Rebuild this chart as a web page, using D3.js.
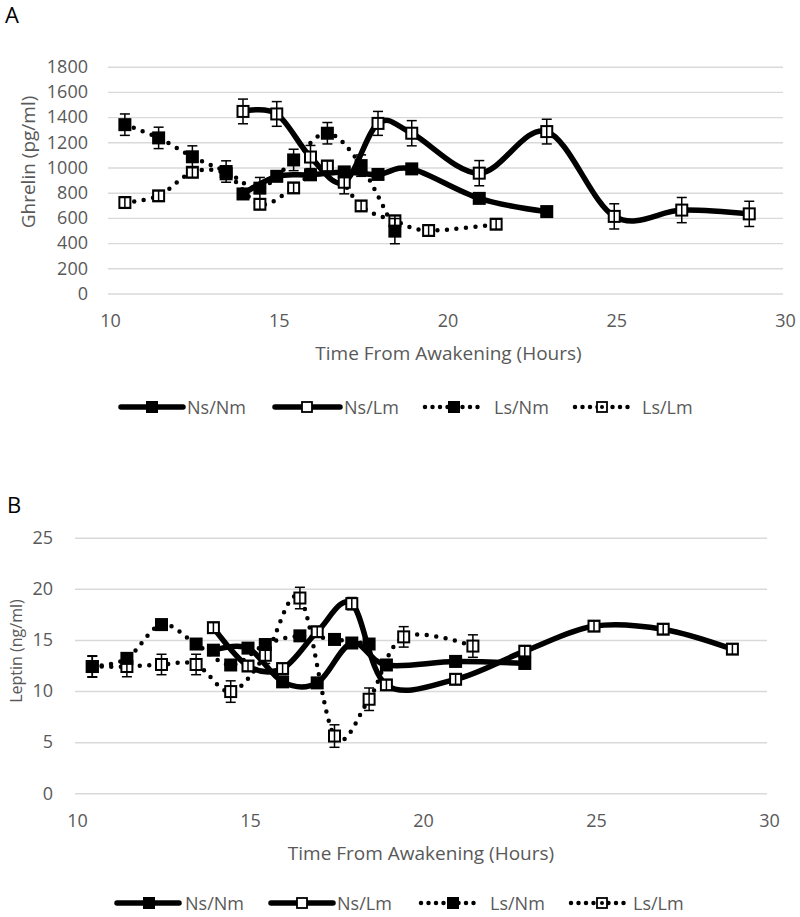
<!DOCTYPE html>
<html>
<head>
<meta charset="utf-8">
<script src="https://cdn.jsdelivr.net/npm/d3@7/dist/d3.min.js"></script>
<style>
  html, body { margin: 0; padding: 0; background: #fff; }
  svg { display: block; }
  text { font-family: "Open Sans", "Noto Sans", sans-serif; }
</style>
</head>
<body>
<svg id="chart" width="800" height="917"></svg>
<script>
// ---------------- DATA ----------------
const seriesNames = ["Ns/Nm", "Ns/Lm", "Ls/Nm", "Ls/Lm"];
const xTickLabels = [10, 15, 20, 25, 30];

// Panel A : Ghrelin (pg/ml)
const ghrelinTicks = [0, 200, 400, 600, 800, 1000, 1200, 1400, 1600, 1800];
const timesNsNmA = [14, 15, 16, 17, 18, 19, 21, 23];
const ghrelinNsNm = [790, 930, 942, 965, 945, 989, 755, 650];
const ghrelinNsNmErr = [25, 25, 25, 25, 25, 25, 25, 25];

const timesNsLmA = [14, 15, 16, 17, 18, 19, 21, 23, 25, 27, 29];
const ghrelinNsLm = [1445, 1425, 1083, 883, 1350, 1272, 955, 1285, 612, 662, 632];
const ghrelinNsLmErr = [98, 98, 92, 92, 95, 100, 100, 98, 100, 100, 100];

const timesLsNmA = [10.5, 11.5, 12.5, 13.5, 14.5, 15.5, 16.5, 17.5, 18.5];
const ghrelinLsNm = [1340, 1235, 1085, 968, 836, 1060, 1272, 1015, 495];
const ghrelinLsNmErr = [85, 85, 87, 85, 85, 85, 85, 85, 100];

const timesLsLmA = [10.5, 11.5, 12.5, 13.5, 14.5, 15.5, 16.5, 17.5, 18.5, 19.5, 21.5];
const ghrelinLsLm = [722, 775, 962, 950, 708, 838, 1012, 695, 577, 500, 550];
const ghrelinLsLmErr = [40, 40, 40, 40, 40, 40, 40, 40, 40, 40, 40];

// Panel B : Leptin (ng/ml)
const leptinTicks = [0, 5, 10, 15, 20, 25];
const timesNsNmB = [14, 15, 16, 17, 18, 19, 21, 23];
const leptinNsNm = [14.0, 14.2, 10.9, 10.8, 14.7, 12.55, 12.9, 12.7];
const leptinNsNmErr = [0.5, 0.5, 0.5, 0.5, 0.5, 0.5, 0.5, 0.5];

const timesNsLmB = [14, 15, 16, 17, 18, 19, 21, 23, 25, 27, 29];
const leptinNsLm = [16.2, 12.45, 12.2, 15.8, 18.55, 10.6, 11.15, 13.9, 16.35, 16.05, 14.1];
const leptinNsLmErr = [0.5, 0.5, 0.5, 0.5, 0.6, 0.5, 0.5, 0.5, 0.5, 0.5, 0.5];

const timesLsNmB = [10.5, 11.5, 12.5, 13.5, 14.5, 15.5, 16.5, 17.5, 18.5];
const leptinLsNm = [12.4, 13.2, 16.5, 14.6, 12.55, 14.55, 15.4, 15.05, 14.6];
const leptinLsNmErr = [1.05, 0.5, 0.5, 0.5, 0.5, 0.5, 0.5, 0.5, 0.5];

const timesLsLmB = [10.5, 11.5, 12.5, 13.5, 14.5, 15.5, 16.5, 17.5, 18.5, 19.5, 21.5];
const leptinLsLm = [12.4, 12.4, 12.6, 12.6, 9.95, 13.5, 19.1, 5.6, 9.2, 15.3, 14.4];
const leptinLsLmErr = [1.0, 1.0, 1.0, 1.0, 1.05, 0.8, 1.05, 1.1, 1.1, 1.0, 1.1];

// ---------------- DRAWING ----------------
const svg = d3.select("#chart");
const TXT = "#595959";

function makeSeries(times, vals, errs, name) {
  return {
    name,
    dotted: name.startsWith("Ls"),
    filled: name.endsWith("Nm"),
    pts: times.map((t, i) => ({ t, v: vals[i], e: errs[i] }))
  };
}

function drawPanel(cfg) {
  const g = svg.append("g");
  const x = d3.scaleLinear().domain([10, 30]).range(cfg.xRange);
  const y = d3.scaleLinear().domain([0, cfg.yTicks[cfg.yTicks.length - 1]]).range(cfg.yRange);
  const pw = cfg.xRange[1] - cfg.xRange[0];

  // gridlines + y labels
  const ya = g.append("g")
    .attr("transform", `translate(${cfg.xRange[0]},0)`)
    .call(d3.axisLeft(y).tickValues(cfg.yTicks).tickSize(-pw).tickPadding(cfg.yPad).tickFormat(d3.format("d")));
  ya.select(".domain").remove();
  ya.selectAll(".tick line").attr("stroke", "#d9d9d9").attr("stroke-width", 1.4);
  ya.selectAll(".tick text").attr("fill", TXT).style("font-size", "18px");

  // x labels
  const xa = g.append("g")
    .attr("transform", `translate(0,${cfg.yRange[0]})`)
    .call(d3.axisBottom(x).tickValues(xTickLabels).tickSize(0).tickPadding(cfg.xPad));
  xa.select(".domain").remove();
  xa.selectAll(".tick text").attr("fill", TXT).style("font-size", "18px").attr("dx", 2);

  // titles
  g.append("text").attr("x", (cfg.xRange[0] + cfg.xRange[1]) / 2 + cfg.xTitleDx).attr("y", cfg.xTitleY)
    .attr("text-anchor", "middle").attr("fill", TXT).style("font-size", "19px")
    .text("Time From Awakening (Hours)");
  g.append("text")
    .attr("transform", `translate(${cfg.yTitleX},${cfg.yTitleY}) rotate(-90)`)
    .attr("text-anchor", "middle").attr("dominant-baseline", "central")
    .attr("fill", TXT).style("font-size", cfg.yTitleSize + "px")
    .text(cfg.yTitle);
  g.append("text").attr("x", cfg.letterX).attr("y", cfg.letterY)
    .attr("fill", "#000").style("font-size", "22px").text(cfg.letter);

  const line = d3.line().x(d => x(d.t)).y(d => y(d.v)).curve(d3.curveCardinal.tension(0));

  // lines
  cfg.series.forEach(s => {
    g.append("path").datum(s.pts).attr("d", line)
      .attr("fill", "none").attr("stroke", "#000")
      .attr("stroke-width", s.dotted ? 4.5 : 5.5)
      .attr("stroke-linecap", "round").attr("stroke-linejoin", "round")
      .attr("stroke-dasharray", s.dotted ? "0 9.5" : null);
  });
  // markers: open squares first, filled squares on top
  const markerOrder = cfg.series.filter(s => !s.filled).concat(cfg.series.filter(s => s.filled));
  markerOrder.forEach(s => {
    const sz = s.filled ? 13 : 11;
    g.append("g").selectAll("rect").data(s.pts).join("rect")
      .attr("x", d => x(d.t) - sz / 2).attr("y", d => y(d.v) - sz / 2)
      .attr("width", sz).attr("height", sz)
      .attr("fill", s.filled ? "#000" : "#fff")
      .attr("stroke", s.filled ? "none" : "#000").attr("stroke-width", 2);
  });
  // error bars
  cfg.series.forEach(s => {
    const eg = g.append("g").attr("stroke", "#000").attr("stroke-width", 1.5);
    s.pts.forEach(d => {
      const cx = x(d.t), y1 = y(d.v - d.e), y2 = y(d.v + d.e);
      eg.append("line").attr("x1", cx).attr("x2", cx).attr("y1", y1).attr("y2", y2);
      eg.append("line").attr("x1", cx - 5).attr("x2", cx + 5).attr("y1", y1).attr("y2", y1);
      eg.append("line").attr("x1", cx - 5).attr("x2", cx + 5).attr("y1", y2).attr("y2", y2);
    });
  });

  // legend
  cfg.legend.forEach((L, i) => {
    const s = cfg.series[i];
    const lg = g.append("g");
    lg.append("line").attr("x1", L[0]).attr("x2", L[1]).attr("y1", cfg.legendY).attr("y2", cfg.legendY)
      .attr("stroke", "#000").attr("stroke-width", s.dotted ? 4.5 : 5.5)
      .attr("stroke-linecap", "round")
      .attr("stroke-dasharray", s.dotted ? "0 7.5" : null);
    const sz = s.filled ? 12 : 10;
    lg.append("rect").attr("x", L[2] - sz / 2).attr("y", cfg.legendY - sz / 2)
      .attr("width", sz).attr("height", sz)
      .attr("fill", s.filled ? "#000" : "#fff")
      .attr("stroke", s.filled ? "none" : "#000").attr("stroke-width", 1.8);
    if (!s.filled && s.dotted) {
      lg.append("circle").attr("cx", L[2]).attr("cy", cfg.legendY).attr("r", 2).attr("fill", "#000");
    }
    lg.append("text").attr("x", L[3]).attr("y", cfg.legendY)
      .attr("dominant-baseline", "central").attr("fill", TXT).style("font-size", "18px")
      .text(s.name);
  });
}

drawPanel({
  letter: "A", letterX: 5, letterY: 23,
  xRange: [108, 783], yRange: [293.5, 66.7], yTicks: ghrelinTicks,
  yPad: 20, xPad: 21, xTitleY: 360, xTitleDx: 3,
  yTitle: "Ghrelin (pg/ml)", yTitleX: 28, yTitleY: 162, yTitleSize: 19,
  legendY: 407,
  legend: [[121, 183, 152, 187], [275, 340, 307, 344], [425, 481, 454, 494], [575, 633, 602, 642]],
  series: [
    makeSeries(timesNsNmA, ghrelinNsNm, ghrelinNsNmErr, seriesNames[0]),
    makeSeries(timesNsLmA, ghrelinNsLm, ghrelinNsLmErr, seriesNames[1]),
    makeSeries(timesLsNmA, ghrelinLsNm, ghrelinLsNmErr, seriesNames[2]),
    makeSeries(timesLsLmA, ghrelinLsLm, ghrelinLsLmErr, seriesNames[3])
  ]
});

drawPanel({
  letter: "B", letterX: 7, letterY: 513,
  xRange: [75, 767], yRange: [793.3, 537.7], yTicks: leptinTicks,
  yPad: 22, xPad: 21, xTitleY: 860, xTitleDx: 0,
  yTitle: "Leptin (ng/ml)", yTitleX: 16, yTitleY: 651, yTitleSize: 16,
  legendY: 903,
  legend: [[117, 179, 149, 185], [271, 333, 302, 337], [421, 475, 453, 490], [571, 625, 602, 633]],
  series: [
    makeSeries(timesNsNmB, leptinNsNm, leptinNsNmErr, seriesNames[0]),
    makeSeries(timesNsLmB, leptinNsLm, leptinNsLmErr, seriesNames[1]),
    makeSeries(timesLsNmB, leptinLsNm, leptinLsNmErr, seriesNames[2]),
    makeSeries(timesLsLmB, leptinLsLm, leptinLsLmErr, seriesNames[3])
  ]
});
</script>
</body>
</html>
